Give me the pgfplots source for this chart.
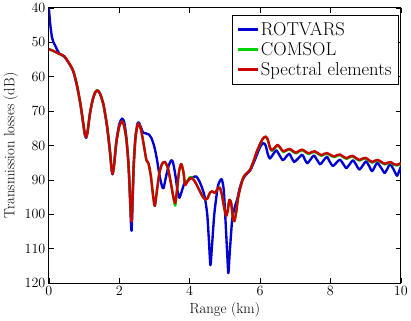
\documentclass[border=0pt]{standalone}
\usepackage{pgfplots}
\pgfplotsset{compat=1.18}
\definecolor{cblue}{RGB}{0,0,210}
\definecolor{cgreen}{RGB}{0,210,0}
\definecolor{cred}{RGB}{205,0,0}
\begin{document}
\begin{tikzpicture}
\begin{axis}[
  scale only axis, width=358bp, height=280bp,
  xmin=0, xmax=10, ymin=40, ymax=120, y dir=reverse,
  xtick={0,2,...,10}, ytick={40,50,...,120},
  tick align=inside, major tick length=5bp,
  axis line style={line width=0.8bp},
  every tick/.style={black, line width=0.6bp},
  ticklabel style={font=\fontsize{15.5}{17}\selectfont},
  label style={font=\fontsize{15}{17}\selectfont},
  xlabel={Range (km)}, ylabel={Transmission losses (dB)},
  legend style={at={(0.994,0.975)}, anchor=north east, draw=black, line width=0.6bp,
     font=\fontsize{19}{22}\selectfont, inner xsep=5bp, inner ysep=5bp, row sep=0.5bp,
     nodes={inner ysep=2.5bp}},
  legend cell align=left,
  legend image code/.code={\draw[#1, line width=2.4bp] (0bp,0bp) -- (20bp,0bp);},
  every axis plot/.append style={line width=2.4bp, line join=round},
]
\addplot[cblue, smooth, tension=0.4] coordinates {
(0,40) (0.02,42.5) (0.05,45.7) (0.09,48.6) (0.14,50.2) (0.19,51.2) (0.25,52.5) (0.3,53.3)
(0.44,54.2) (0.6,56.6) (0.7,58.7) (0.8,62.8) (0.9,68.3) (0.97,73.3) (1.02,76.8) (1.06,77.8)
(1.1,76.2) (1.17,70.7) (1.25,66.6) (1.32,64.6) (1.38,64.1) (1.45,64.9) (1.55,68.2) (1.65,74.3)
(1.73,81.3) (1.78,86.8) (1.81,88.4) (1.85,86) (1.92,78.5) (2.0,73.8) (2.08,72.2) (2.14,73.2)
(2.2,77.5) (2.26,85) (2.3,94) (2.33,102) (2.35,104.8) (2.37,100) (2.41,86) (2.46,77.5)
(2.52,73.6) (2.56,73.4) (2.62,74.8) (2.68,76.3) (2.76,76.5) (2.84,76.8) (2.92,78) (3.0,80.5)
(3.07,84) (3.15,89) (3.22,92) (3.26,92.4) (3.32,89.5) (3.4,86) (3.48,84.3) (3.53,85)
(3.6,89) (3.66,93.5) (3.71,95.2) (3.77,93.5) (3.85,91) (3.92,90.5) (4.0,89.8) (4.08,89.3)
(4.19,89) (4.28,90.5) (4.36,92.5) (4.43,95) (4.5,100) (4.55,108) (4.59,114.8) (4.63,110)
(4.7,100) (4.8,92) (4.88,90) (4.92,90) (4.97,93) (5.02,102) (5.07,112) (5.10,117.1)
(5.14,111) (5.21,101.4) (5.28,98) (5.35,95.7) (5.42,92.5) (5.5,90) (5.6,88.5) (5.72,87.3)
(5.8,85.5) (5.9,83) (6.0,80.5) (6.09,79.3) (6.16,80) (6.22,82.5) (6.28,83.8)
(6.37,82.6) (6.46,81.4) (6.55,82.8) (6.65,84.3) (6.74,83.3) (6.83,82.4) (6.9,83.6) (6.97,84.8)
(7.08,83.8) (7.2,82.7) (7.27,84.0) (7.34,85.2) (7.44,84.0) (7.53,82.9) (7.62,84.2) (7.71,85.5)
(7.8,84.4) (7.9,83.3) (7.98,84.7) (8.07,86.0) (8.17,85.0) (8.27,84.1) (8.36,85.3) (8.45,86.6)
(8.55,85.4) (8.64,84.3) (8.73,85.6) (8.82,87.0) (8.92,85.8) (9.01,84.6) (9.1,86.0) (9.18,87.5)
(9.26,86.2) (9.33,85.0) (9.44,86.5) (9.54,88.0) (9.62,86.7) (9.7,85.4) (9.8,87.1) (9.89,88.8)
(9.95,87.5) (10.0,86.2)
};
\addlegendentry{ROTVARS}
\addplot[cgreen, smooth, tension=0.4] coordinates {
(0,52.0) (0.1,52.4) (0.2,52.9) (0.3,53.4) (0.44,54.1) (0.6,56.5) (0.7,58.5) (0.8,62.5)
(0.9,68) (0.97,73) (1.02,76.5) (1.06,77.6) (1.1,76) (1.17,70.5) (1.25,66.5) (1.32,64.5)
(1.38,64) (1.45,64.8) (1.55,68) (1.65,74) (1.73,81) (1.78,86.5) (1.81,88.2) (1.85,86)
(1.92,79) (2.0,74.5) (2.07,73.0) (2.13,74) (2.2,78) (2.26,85) (2.3,93) (2.33,100)
(2.35,102) (2.37,98) (2.41,86) (2.46,78) (2.52,74) (2.56,73.8) (2.62,75.5) (2.7,80)
(2.77,84.2) (2.83,85.2) (2.9,89) (2.96,94.5) (3.01,97.6) (3.06,94) (3.14,88) (3.22,85.3)
(3.3,84.8) (3.38,86.5) (3.46,90.5) (3.53,94.8) (3.59,97.5) (3.64,93.3) (3.7,87.5) (3.76,85.4)
(3.82,87.5) (3.87,91.3) (3.92,90.5) (4.0,89.3) (4.06,89.2) (4.15,90.5) (4.25,92.5) (4.35,94.5)
(4.44,95.7) (4.5,95.5) (4.58,93.7) (4.64,93.3) (4.72,93.8) (4.8,92.5) (4.86,92.3) (4.92,94.5)
(4.98,98) (5.04,100.4) (5.08,99) (5.13,95.8) (5.18,96.8) (5.23,101) (5.27,102) (5.32,99.5)
(5.38,95) (5.46,91.5) (5.54,89) (5.63,88) (5.72,87) (5.8,85) (5.9,82) (6.0,79.6)
(6.08,78) (6.16,77.5) (6.22,78.4) (6.28,80.6) (6.33,81.6) (6.4,81.0) (6.5,80.0) (6.58,80.9)
(6.66,81.9) (6.75,81.5) (6.85,81.2) (6.93,81.8) (7.02,82.3) (7.1,81.8) (7.2,81.4) (7.28,81.9)
(7.38,82.5) (7.47,82.1) (7.55,81.9) (7.64,82.4) (7.74,83.0) (7.83,82.6) (7.9,82.4) (8.0,82.9)
(8.1,83.4) (8.19,83.0) (8.27,82.8) (8.36,83.4) (8.46,83.9) (8.55,83.4) (8.63,83.2) (8.72,83.8)
(8.82,84.4) (8.91,84.0) (9.0,83.8) (9.09,84.4) (9.18,85.0) (9.27,84.6) (9.35,84.4) (9.45,85.0)
(9.54,85.5) (9.63,85.2) (9.71,85.0) (9.8,85.6) (9.9,85.8) (10.0,85.3)
};
\addlegendentry{COMSOL}
\addplot[cred, smooth, tension=0.4] coordinates {
(0,52.0) (0.1,52.4) (0.2,52.9) (0.3,53.4) (0.44,54.1) (0.6,56.5) (0.7,58.5) (0.8,62.5)
(0.9,68) (0.97,73) (1.02,76.5) (1.06,77.6) (1.1,76) (1.17,70.5) (1.25,66.5) (1.32,64.5)
(1.38,64) (1.45,64.8) (1.55,68) (1.65,74) (1.73,81) (1.78,86.5) (1.81,88.2) (1.85,86)
(1.92,79) (2.0,74.5) (2.07,73.0) (2.13,74) (2.2,78) (2.26,85) (2.3,93) (2.33,100)
(2.35,102) (2.37,98) (2.41,86) (2.46,78) (2.52,74) (2.56,73.8) (2.62,75.5) (2.7,80)
(2.77,84.2) (2.83,85.2) (2.9,89) (2.96,94.5) (3.01,97.6) (3.06,94) (3.14,88) (3.22,85.3)
(3.3,84.8) (3.38,86.5) (3.46,90.5) (3.53,94.5) (3.59,96.7) (3.64,93) (3.7,87.5) (3.76,85.4)
(3.82,87.5) (3.87,91.5) (3.92,90.8) (4.0,89.6) (4.06,89.4) (4.15,90.5) (4.25,92.5) (4.35,94.5)
(4.44,95.7) (4.5,95.5) (4.58,93.7) (4.64,93.3) (4.72,93.8) (4.8,92.5) (4.86,92.3) (4.92,94.5)
(4.98,98) (5.04,100.4) (5.08,99) (5.13,95.8) (5.18,96.8) (5.23,101) (5.27,102) (5.32,99.5)
(5.38,95) (5.46,91.5) (5.54,89) (5.63,88) (5.72,87) (5.8,85) (5.9,82) (6.0,79.6)
(6.08,78) (6.16,77.4) (6.22,78.3) (6.28,80.5) (6.33,81.4) (6.4,80.8) (6.5,79.8) (6.58,80.7)
(6.66,81.7) (6.75,81.3) (6.85,81.0) (6.93,81.6) (7.02,82.1) (7.1,81.6) (7.2,81.2) (7.28,81.7)
(7.38,82.3) (7.47,81.9) (7.55,81.7) (7.64,82.2) (7.74,82.8) (7.83,82.4) (7.9,82.2) (8.0,82.7)
(8.1,83.2) (8.19,82.8) (8.27,82.6) (8.36,83.2) (8.46,83.7) (8.55,83.2) (8.63,83.0) (8.72,83.6)
(8.82,84.2) (8.91,83.8) (9.0,83.6) (9.09,84.2) (9.18,84.8) (9.27,84.4) (9.35,84.2) (9.45,84.8)
(9.54,85.3) (9.63,85.0) (9.71,84.8) (9.8,85.4) (9.9,85.6) (10.0,85.1)
};
\addlegendentry{Spectral elements}
\end{axis}
\end{tikzpicture}
\end{document}
